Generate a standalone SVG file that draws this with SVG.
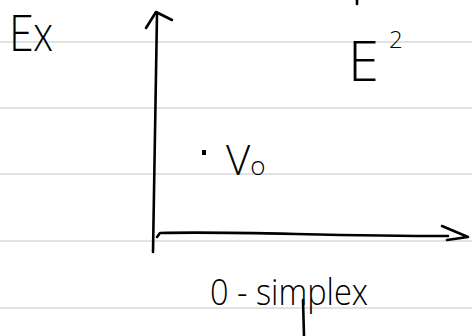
<svg xmlns="http://www.w3.org/2000/svg" width="472" height="336" viewBox="0 0 472 336">
<style>
.rule{stroke:#e2e2e2;stroke-width:2}
.ink{fill:none;stroke:#000;stroke-width:2.6;stroke-linecap:round;stroke-linejoin:round}
.t{font-family:"Open Sans","Liberation Sans",sans-serif;font-weight:300;fill:#000}
</style>
<rect width="472" height="336" fill="#fff"/>
<g id="rules">
<line class="rule" x1="0" y1="42" x2="472" y2="42"/>
<line class="rule" x1="0" y1="108" x2="472" y2="108"/>
<line class="rule" x1="0" y1="174" x2="472" y2="174"/>
<line class="rule" x1="0" y1="241" x2="472" y2="241"/>
<line class="rule" x1="0" y1="308" x2="472" y2="308"/>
</g>
<g id="title"><text x="9" y="51" font-size="52" font-family="Lato,'Liberation Sans',sans-serif" font-weight="300" fill="#000" textLength="44" lengthAdjust="spacingAndGlyphs">Ex</text></g>
<g id="space"><text class="t" x="348" y="81" font-size="56">E</text><text class="t" x="389" y="48" font-size="24">2</text>
<path class="ink" d="M357 0 L357 4"/></g>
<g id="connectors">
<path class="ink" d="M153 252 C154 180 155 100 157 14"/>
<path class="ink" d="M146 28 L156 12 L172 20"/>
<path class="ink" d="M157 237 L160 233 C240 231 320 236 448 236"/>
<path class="ink" d="M442 226 L468 237 L447 240"/>
</g>
<g id="v0">
<rect x="202" y="150" width="4" height="5" fill="#000"/>
<text class="t" x="226" y="175" font-size="42">V<tspan font-size="26">o</tspan></text>
</g>
<g id="label">
<text class="t" x="210" y="305" font-size="36" textLength="158" lengthAdjust="spacingAndGlyphs">0 - simplex</text>
<path class="ink" d="M303 300 L304 336"/>
</g>
</svg>
